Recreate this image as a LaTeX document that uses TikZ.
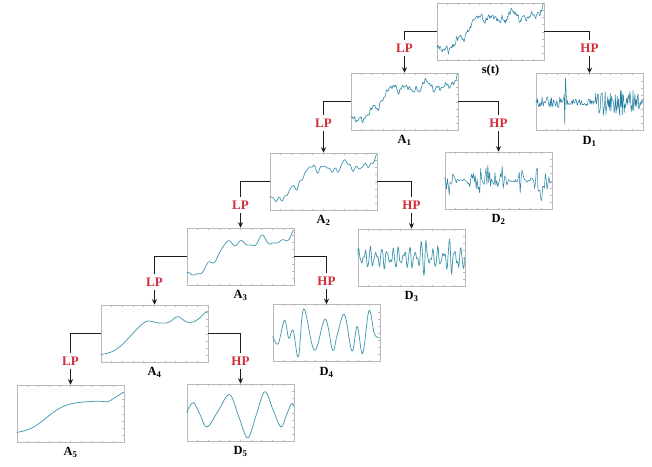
\documentclass[tikz,border=0pt]{standalone}
\usepackage{fontspec}
\setmainfont{Liberation Serif}
\usetikzlibrary{arrows.meta}

\definecolor{sigcol}{RGB}{60,150,175}
\definecolor{densecol}{RGB}{40,128,162}
\definecolor{framecol}{RGB}{185,185,185}
\definecolor{bandred}{RGB}{208,44,56}
\definecolor{linkcol}{RGB}{28,28,28}

\tikzset{
  plotbox/.style={draw=framecol, line width=0.55pt, fill=white,
    minimum width=107pt, minimum height=57pt, inner sep=0pt},
  caption/.style={font=\bfseries\fontsize{12.5}{12.5}\selectfont, inner sep=0pt,
    anchor=north, text height=8.5pt, text depth=2.5pt},
  band/.style={text=bandred, font=\bfseries\fontsize{13}{13}\selectfont,
    inner sep=3.5pt, text height=9pt, text depth=0pt},
  link/.style={draw=linkcol, line width=1.8pt},
  linkarrow/.style={link, -{Stealth[length=5.5pt,width=5pt]}},
  trace/.style={draw=sigcol, line width=0.7pt, line join=round},
  dense/.style={draw=densecol, line width=0.5pt, line join=round},
}

% tick marks on the inside of a plot frame
\newcommand\boxticks[1]{%
  \begin{scope}[shift={(#1.south west)}, x=107pt, y=57pt, draw=framecol, line width=0.4pt]
    \foreach \t in {1,...,9} {\draw (\t/10,0) -- ++(0,1.6pt) (\t/10,1) -- ++(0,-1.6pt);}
    \foreach \t in {1,...,7} {\draw (0,\t/8) -- ++(1.6pt,0) (1,\t/8) -- ++(-1.6pt,0);}
  \end{scope}}

% a signal drawn inside a plot frame, in unit coordinates
\newcommand\plotsig[3]{%
  \begin{scope}[shift={(#1.south west)}, x=107pt, y=57pt]
    \clip (0,0) rectangle (1,1);
    \draw[#2] plot #3;
  \end{scope}}

\begin{document}
\begin{tikzpicture}[x=1pt, y=-1pt,
  declare function={
    wav(\u,\f,\p) = sin(360*mod(\f*\u,1)+\p);
    bmp(\u,\c,\w) = exp(-min(((\u-\c)/\w)*((\u-\c)/\w),9));
    stp(\u,\c,\k) = 1/(1+exp(max(-9,min(9,-(\u-\c)*\k))));
    sgn(\u) = 2*(rand>0)-1;
    trAv(\u)   = 0.15 + 0.55*stp(\u,0.28,11) + 0.03*\u - 0.03*bmp(\u,0.85,0.05) + 0.2*bmp(\u,1.08,0.15);
    trAiv(\u)  = 0.12 + 0.57*stp(\u,0.25,14) + 0.07*bmp(\u,0.43,0.08) + 0.11*bmp(\u,0.72,0.06) + 0.22*bmp(\u,1.02,0.1);
    trAiii(\u) = trAiv(\u) + 0.03 + 0.06*bmp(\u,0.36,0.05) + 0.04*wav(\u,6,30) + 0.025*wav(\u,10,80);
    trAii(\u)  = trAiii(\u) + 0.025*wav(\u,15,10) + 0.018*wav(\u,21,140);
    trAi(\u)   = trAii(\u) + 0.018*wav(\u,33,50) + 0.014*wav(\u,47,200);
    envD(\u)   = 0.06 + 0.035*(\u<0.25) + 0.17*(\u>0.55)*(\u<0.97);
    envC(\u)   = 0.02 + 0.3*bmp(\u,0.05,0.04) + 0.32*bmp(\u,0.3,0.06) + 0.3*bmp(\u,0.4,0.03)
                 + 0.46*bmp(\u,0.48,0.015) + 0.3*bmp(\u,0.54,0.03) + 0.32*bmp(\u,0.715,0.03) + 0.34*bmp(\u,0.9,0.06);
    envB(\u)   = 0.22 + 0.22*bmp(\u,0.6,0.015) + 0.24*bmp(\u,0.635,0.015) + 0.22*bmp(\u,0.86,0.02) + 0.2*bmp(\u,0.93,0.02);
  }]
  \fill[white] (0,0) rectangle (652,466);
  \useasboundingbox (0,0) rectangle (652,466);
  \pgfmathsetseed{7}

  % plot frames
  \node[plotbox] (st) at (490.5,31.5) {};
  \node[plotbox] (A1) at (404.5,101.5) {};
  \node[plotbox] (A2) at (323.5,181.5) {};
  \node[plotbox] (A3) at (240.5,256.5) {};
  \node[plotbox] (A4) at (154.5,333.5) {};
  \node[plotbox] (A5) at (70.5,413.5) {};
  \node[plotbox] (D1) at (589.5,102) {};
  \node[plotbox] (D2) at (498.5,180.5) {};
  \node[plotbox] (D3) at (411.5,257.5) {};
  \node[plotbox] (D4) at (326.5,333) {};
  \node[plotbox] (D5) at (240.5,412.5) {};

  \foreach \b in {st,A1,A2,A3,A4,A5,D1,D2,D3,D4,D5} {\boxticks{\b}}

  % approximations
  \plotsig{st}{dense}{[domain=0:1,samples=220] (\x,{trAi(\x)+0.025*rand})}
  \plotsig{A1}{trace}{[domain=0:1,samples=200] (\x,{trAi(\x)})}
  \plotsig{A2}{trace}{[domain=0:1,samples=150] (\x,{trAii(\x)})}
  \plotsig{A3}{trace}{[domain=0:1,samples=120] (\x,{trAiii(\x)})}
  \plotsig{A4}{trace}{[domain=0:1,samples=100] (\x,{trAiv(\x)})}
  \plotsig{A5}{trace}{[domain=0:1,samples=80] (\x,{trAv(\x)})}

  % details
  \plotsig{D1}{dense}{[domain=0:1,samples=170] (\x,{0.5+envD(\x)*rand+0.43*bmp(\x,0.275,0.008)*sgn(\x)})}
  \plotsig{D2}{dense}{[domain=0:1,samples=120] (\x,{0.5+envC(\x)*rand})}
  \plotsig{D3}{trace}{[domain=0:1,samples=200] (\x,{0.5+envB(\x)*(0.55*wav(\x,19,0)+0.3*wav(\x,27,40)+0.15*wav(\x,43,10))})}
  \plotsig{D4}{trace}{[smooth,tension=0.6] coordinates {(0,0.45) (0.05,0.31) (0.11,0.73) (0.15,0.41) (0.19,0.56)
     (0.24,0.09) (0.29,0.93) (0.39,0.2) (0.49,0.75) (0.56,0.2) (0.6,0.45) (0.67,0.83) (0.74,0.19)
     (0.79,0.62) (0.84,0.14) (0.9,0.9) (0.95,0.49) (1,0.42)}}
  \plotsig{D5}{trace}{[smooth,tension=0.6] coordinates {(0,0.5) (0.06,0.68) (0.125,0.465) (0.19,0.25) (0.295,0.535)
     (0.4,0.82) (0.485,0.44) (0.57,0.06) (0.65,0.465) (0.73,0.87) (0.805,0.56) (0.88,0.25) (0.93,0.455)
     (0.98,0.66) (1,0.62)}}

  % captions
  \node[caption, below=5pt] (cst) at (st.south) {s(t)};
  \node[caption, below=5pt] (cA1) at (A1.south) {A\textsubscript{1}};
  \node[caption, below=5pt] (cA2) at (A2.south) {A\textsubscript{2}};
  \node[caption, below=5pt] (cA3) at (A3.south) {A\textsubscript{3}};
  \node[caption, below=5pt] (cA4) at (A4.south) {A\textsubscript{4}};
  \node[caption, below=5pt] (cA5) at (A5.south) {A\textsubscript{5}};
  \node[caption, below=5pt] (cD1) at (D1.south) {D\textsubscript{1}};
  \node[caption, below=5pt] (cD2) at (D2.south) {D\textsubscript{2}};
  \node[caption, below=5pt] (cD3) at (D3.south) {D\textsubscript{3}};
  \node[caption, below=5pt] (cD4) at (D4.south) {D\textsubscript{4}};
  \node[caption, below=5pt] (cD5) at (D5.south) {D\textsubscript{5}};

  % filter labels
  \node[band] (lp1) at (A1.north |- 0,48) {LP};
  \node[band] (hp1) at (D1.north |- 0,48) {HP};
  \node[band] (lp2) at (A2.north |- 0,123) {LP};
  \node[band] (hp2) at (D2.north |- 0,123) {HP};
  \node[band] (lp3) at (A3.north |- 0,205) {LP};
  \node[band] (hp3) at (D3.north |- 0,205) {HP};
  \node[band] (lp4) at (A4.north |- 0,282) {LP};
  \node[band] (hp4) at (D4.north |- 0,281) {HP};
  \node[band] (lp5) at (A5.north |- 0,361) {LP};
  \node[band] (hp5) at (D5.north |- 0,361) {HP};

  % decomposition tree
  \foreach \p/\a/\d/\l/\h in {st/A1/D1/lp1/hp1, A1/A2/D2/lp2/hp2, A2/A3/D3/lp3/hp3,
                              A3/A4/D4/lp4/hp4, A4/A5/D5/lp5/hp5} {
    \draw[link] (\p.west) -| (\l.north);
    \draw[linkarrow] (\l.south) -- (\a.north);
    \draw[link] (\p.east) -| (\h.north);
    \draw[linkarrow] (\h.south) -- (\d.north);
  }
\end{tikzpicture}
\end{document}
